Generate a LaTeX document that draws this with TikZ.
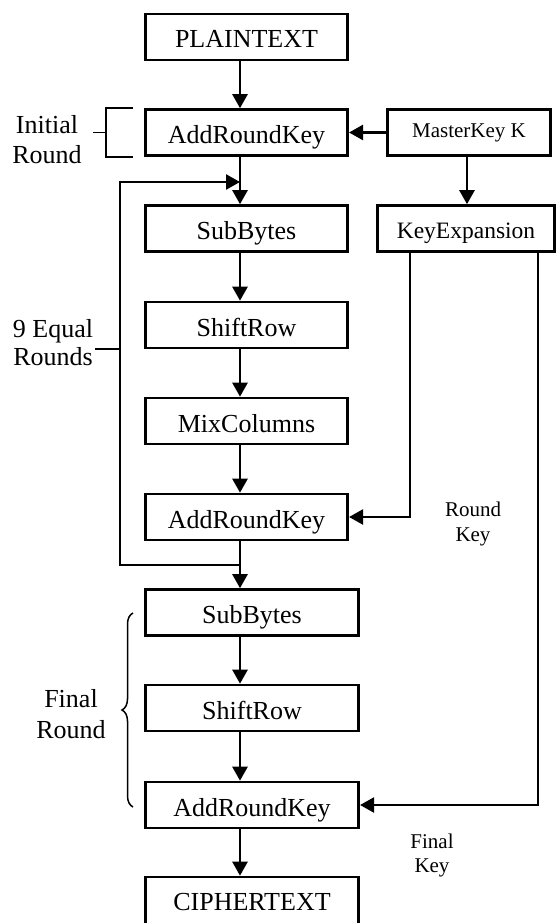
\documentclass[tikz,border=0pt]{standalone}
\usepackage{fontspec}
\setmainfont{Liberation Serif}
\usetikzlibrary{arrows.meta,decorations.pathreplacing}

% two centred lines whose baseline is that of the first line
\newcommand\lblpair[2]{\begin{tabular}[t]{@{}c@{}}#1\\#2\end{tabular}}

\begin{document}
\begin{tikzpicture}[x=1pt,y=-1pt,
  stage/.style={draw,line width=2.6pt,inner sep=0pt,minimum width=202.5pt,
    minimum height=46pt,text height=22pt,text depth=0pt,
    font=\fontsize{26}{30}\selectfont},
  widestage/.style={stage,minimum width=213.5pt},
  keybox/.style={draw,line width=2.6pt,inner sep=0pt,minimum height=46pt,
    text depth=0pt},
  conn/.style={line width=2.5pt,-{Triangle[length=14pt,width=15pt]}},
  keyline/.style={line width=2.3pt,-{Triangle[length=14pt,width=15pt]}},
  bracket/.style={line width=1.8pt},
  biglbl/.style={inner sep=0pt,anchor=base,font=\fontsize{26}{30}\selectfont},
  smalllbl/.style={inner sep=0pt,anchor=base,font=\fontsize{21}{25}\selectfont}
]
\useasboundingbox (0,0) rectangle (557,923);

% main column of stages
\node[stage] (plain)  at (246.5,37)  {PLAINTEXT};
\node[stage] (ark0)   at (246.5,132.5) {AddRoundKey};
\node[stage] (sub1)   at (246.5,228.5) {SubBytes};
\node[stage] (shift1) at (246.5,325) {ShiftRow};
\node[stage] (mix)    at (246.5,421) {MixColumns};
\node[stage] (ark1)   at (246.5,517) {AddRoundKey};
\node[widestage] (sub2)   at (252,612.5) {SubBytes};
\node[widestage] (shift2) at (252,708) {ShiftRow};
\node[widestage] (ark2)   at (252,805) {AddRoundKey};
\node[widestage,minimum height=50pt,text height=16pt] (cipher) at (252,902) {CIPHERTEXT};

% key schedule
\node[keybox,minimum width=163.5pt,text height=11pt,
      font=\fontsize{21}{25}\selectfont] (master) at (469,132.5) {MasterKey K};
\node[keybox,minimum width=177.5pt,text height=19pt,
      font=\fontsize{23.5}{28}\selectfont] (keyexp) at (466,228.5) {KeyExpansion};

% reference coordinates for the vertical runs
\coordinate (vx)  at (240,0);
\coordinate (kx)  at (467,0);
\coordinate (rkx) at (410,0);
\coordinate (fkx) at (538,0);
\coordinate (loopTL) at (120,182);
\coordinate (loopBL) at (120,565);

% data path
\draw[conn] (plain.south -| vx)  -- (ark0.north -| vx);
\draw[conn] (ark0.south -| vx)   -- (sub1.north -| vx);
\draw[conn] (sub1.south -| vx)   -- (shift1.north -| vx);
\draw[conn] (shift1.south -| vx) -- (mix.north -| vx);
\draw[conn] (mix.south -| vx)    -- (ark1.north -| vx);
\draw[conn] (ark1.south -| vx)   -- (sub2.north -| vx);
\draw[conn] (sub2.south -| vx)   -- (shift2.north -| vx);
\draw[conn] (shift2.south -| vx) -- (ark2.north -| vx);
\draw[conn] (ark2.south -| vx)   -- (cipher.north -| vx);

% round loop
\draw[conn] (vx |- loopBL) -- (loopBL) -- (loopTL) -- (vx |- loopTL);

% keys
\draw[conn] (master.west) -- (ark0.east);
\draw[conn] (master.south -| kx) -- (keyexp.north -| kx);
\draw[keyline] (keyexp.south -| rkx) |- (ark1.east);
\draw[keyline] (keyexp.south -| fkx) |- (ark2.east);

% initial round bracket
\draw[bracket] (133,108) -| (106,157) -- (133,157);
\draw[bracket] (93,132.5) -- (106,132.5);
% tick for the equal rounds
\draw[bracket] (95,349) -- (loopTL |- 0,349);
% final round brace
\draw[line width=1.5pt,decorate,decoration={brace,amplitude=11pt}]
  (133,807) -- (133,613);

% labels
\node[biglbl] (initlbl) at (47,133) {\lblpair{Initial}{Round}};
\node[biglbl,font=\fontsize{26}{28}\selectfont] (eqlbl) at (53,337) {\lblpair{9 Equal}{Rounds}};
\node[biglbl,font=\fontsize{26}{31}\selectfont] (finlbl) at (71,707) {\lblpair{Final}{Round}};
\node[smalllbl] (rklbl) at (473,516) {\lblpair{Round}{Key}};
\node[smalllbl,font=\fontsize{21}{24}\selectfont] (fklbl) at (432,848) {\lblpair{Final}{Key}};
\end{tikzpicture}
\end{document}
